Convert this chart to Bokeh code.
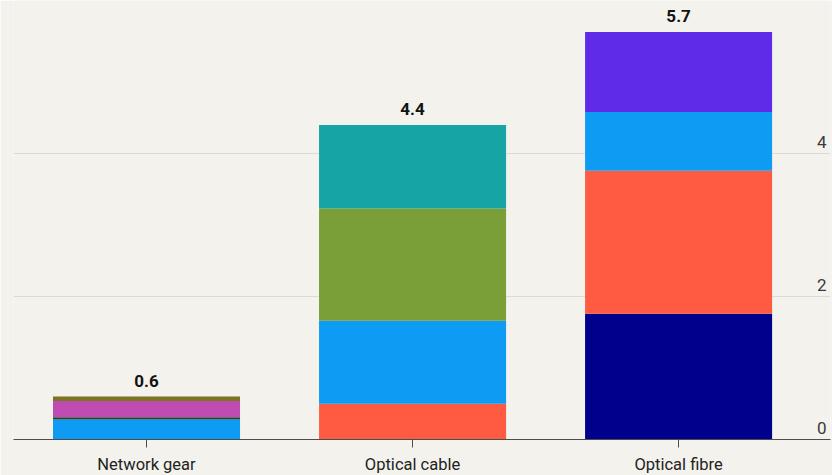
import numpy as np
from bokeh.plotting import figure
from bokeh.models import Range1d, FixedTicker, ColumnDataSource
from bokeh.core.properties import value
from bokeh.embed import file_html
from bokeh.resources import INLINE

# Categories and stacked segment values (bottom to top)
categories = ["Network gear", "Optical cable", "Optical fibre"]
gear_values = [0.28, 0.03, 0.23, 0.06]
gear_colors = ["#0e9bf4", "#1c4a2c", "#bf4bb3", "#7b7420"]
cable_values = [0.50, 1.16, 1.57, 1.17]
cable_colors = ["#ff5a42", "#0e9bf4", "#7a9e38", "#17a4a5"]
fibre_values = [1.76, 2.00, 0.82, 1.12]
fibre_colors = ["#00008d", "#ff5a42", "#0e9bf4", "#5f2ae8"]
y_ticks = [0, 2, 4]

stacks = [(gear_values, gear_colors), (cable_values, cable_colors), (fibre_values, fibre_colors)]

BG = "#f4f2ed"
FONT = "Roboto"

p = figure(width=832, height=475, frame_width=817, frame_height=439,
           x_range=Range1d(-0.5, 2.571), y_range=Range1d(0, 6.14),
           output_backend="svg", toolbar_location=None,
           min_border_left=13, min_border_right=2, min_border_top=0, min_border_bottom=36,
           background_fill_color=BG, border_fill_color=BG, outline_line_color=None)

# Build the stacked segments
xs, bottoms, tops, colors = [], [], [], []
for i, (vals, cols) in enumerate(stacks):
    edges = np.concatenate([[0.0], np.cumsum(vals)])
    for j, c in enumerate(cols):
        xs.append(i)
        bottoms.append(edges[j])
        tops.append(edges[j + 1])
        colors.append(c)
seg = ColumnDataSource(dict(x=xs, bottom=bottoms, top=tops, color=colors))
p.vbar(x="x", bottom="bottom", top="top", width=0.703, fill_color="color",
       line_color=None, source=seg)

# Totals above each bar
totals = [sum(v) for v, _ in stacks]
tot_src = ColumnDataSource(dict(x=list(range(len(categories))), y=totals,
                                label=[f"{t:.1f}" for t in totals]))
p.text(x="x", y="y", text="label", source=tot_src, y_offset=-10,
       text_align="center", text_baseline="bottom", text_font=value(FONT),
       text_font_style="bold", text_font_size="17px", text_color="#121212")

# Value labels sitting above the gridlines at the right edge
ylab = ColumnDataSource(dict(x=[2.556] * len(y_ticks), y=y_ticks, label=[str(t) for t in y_ticks]))
p.text(x="x", y="y", text="label", source=ylab, y_offset=-6,
       text_align="right", text_baseline="bottom", text_font=value(FONT),
       text_font_size="17px", text_color="#3a3a3a")

# Axes and grid
p.yaxis.visible = False
p.ygrid.ticker = FixedTicker(ticks=[t for t in y_ticks if t > 0])
p.ygrid.grid_line_color = "#dcdad4"
p.ygrid.grid_line_width = 1
p.xgrid.grid_line_color = None

xa = p.xaxis[0]
xa.ticker = FixedTicker(ticks=list(range(len(categories))))
xa.major_label_overrides = {i: c for i, c in enumerate(categories)}
xa.axis_line_color = "#4d4d4d"
xa.axis_line_width = 1.2
xa.major_tick_line_color = "#4d4d4d"
xa.major_tick_out = 8
xa.major_tick_in = 0
xa.minor_tick_line_color = None
xa.major_label_standoff = 7
xa.major_label_text_font = FONT
xa.major_label_text_font_size = "16.5px"
xa.major_label_text_color = "#222222"

open("out.html", "w").write(file_html(p, INLINE))
